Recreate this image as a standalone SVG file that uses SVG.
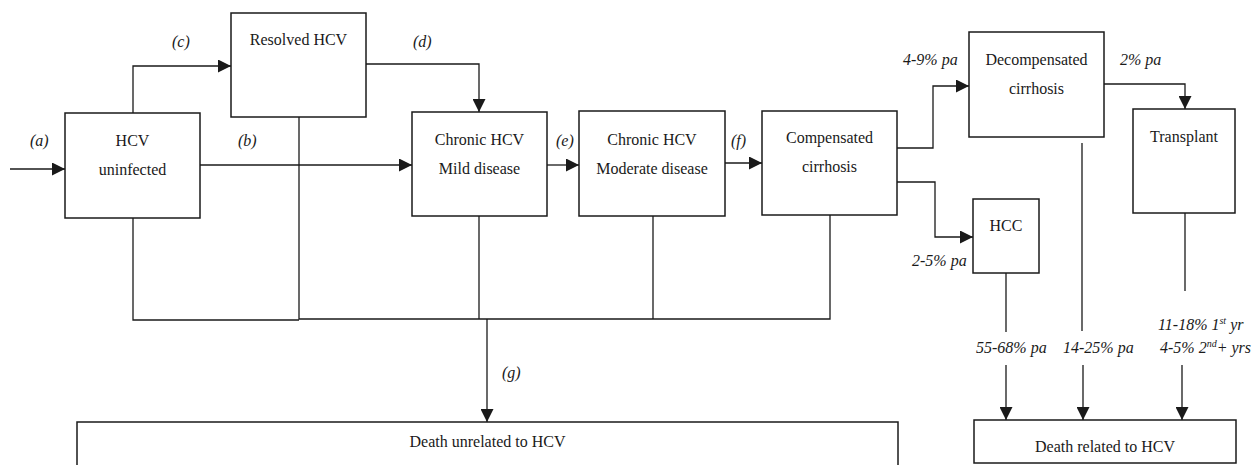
<svg xmlns="http://www.w3.org/2000/svg" width="1253" height="465" viewBox="0 0 1253 465">
<style>
.box{fill:#fff;stroke:#1a1a1a;stroke-width:1.5}
.ln{fill:none;stroke:#1a1a1a;stroke-width:1.3}
.t{font-family:"Liberation Serif","Times New Roman",serif;font-size:16px;fill:#1a1a1a;text-anchor:middle}
.i{font-family:"Liberation Serif","Times New Roman",serif;font-size:16px;font-style:italic;fill:#1a1a1a}
</style>
<defs>
<marker id="ah" markerUnits="userSpaceOnUse" markerWidth="13" markerHeight="13" refX="13" refY="6.5" orient="auto">
<path d="M0,0 L13,6.5 L0,13 z" fill="#1a1a1a"/>
</marker>
</defs>
<rect width="1253" height="465" fill="#fff"/>
<g id="connectors">
<path class="ln" d="M10,169 H65" marker-end="url(#ah)"/>
<path class="ln" d="M200,165 H412" marker-end="url(#ah)"/>
<path class="ln" d="M133,113 V66 H231" marker-end="url(#ah)"/>
<path class="ln" d="M366,64 H479 V112" marker-end="url(#ah)"/>
<path class="ln" d="M547,165 H579" marker-end="url(#ah)"/>
<path class="ln" d="M725,163 H762" marker-end="url(#ah)"/>
<path class="ln" d="M897,148 H933 V86 H969" marker-end="url(#ah)"/>
<path class="ln" d="M897,182 H935 V237 H973" marker-end="url(#ah)"/>
<path class="ln" d="M1104,84 H1185 V109" marker-end="url(#ah)"/>
<path class="ln" d="M133,218 V320 H299"/>
<path class="ln" d="M299,117 V319 H830 V215"/>
<path class="ln" d="M479,216 V319"/>
<path class="ln" d="M653,216 V319"/>
<path class="ln" d="M487,319 V422" marker-end="url(#ah)"/>
<path class="ln" d="M1006,273 V332"/>
<path class="ln" d="M1006,365 V420" marker-end="url(#ah)"/>
<path class="ln" d="M1082,143 V331"/>
<path class="ln" d="M1083,365 V420" marker-end="url(#ah)"/>
<path class="ln" d="M1185,213 V291"/>
<path class="ln" d="M1182,365 V420" marker-end="url(#ah)"/>
</g>
<g id="labels">
<text class="i" x="30" y="146">(a)</text>
<text class="i" x="238" y="146">(b)</text>
<text class="i" x="172" y="47">(c)</text>
<text class="i" x="413" y="47">(d)</text>
<text class="i" x="556" y="146">(e)</text>
<text class="i" x="731" y="146">(f)</text>
<text class="i" x="502" y="378">(g)</text>
<text class="i" x="903" y="65">4-9% pa</text>
<text class="i" x="1120" y="65">2% pa</text>
<text class="i" x="912" y="266">2-5% pa</text>
<text class="i" x="976" y="353">55-68% pa</text>
<text class="i" x="1063" y="353">14-25% pa</text>
<text class="i" x="1158" y="330">11-18% 1<tspan font-size="10" dy="-6">st</tspan><tspan dy="6"> yr</tspan></text>
<text class="i" x="1160" y="353">4-5% 2<tspan font-size="10" dy="-6">nd</tspan><tspan dy="6">+ yrs</tspan></text>
</g>
<g id="hcv-uninfected">
<rect class="box" x="65" y="113" width="135" height="105"/>
<text class="t" x="132.5" y="146">HCV</text>
<text class="t" x="132.5" y="175">uninfected</text>
</g>
<g id="resolved-hcv">
<rect class="box" x="231" y="13" width="135" height="104"/>
<text class="t" x="298.5" y="45">Resolved HCV</text>
</g>
<g id="chronic-mild">
<rect class="box" x="412" y="112" width="135" height="104"/>
<text class="t" x="479.5" y="145">Chronic HCV</text>
<text class="t" x="479.5" y="174">Mild disease</text>
</g>
<g id="chronic-moderate">
<rect class="box" x="579" y="111" width="146" height="105"/>
<text class="t" x="652" y="145">Chronic HCV</text>
<text class="t" x="652" y="174">Moderate disease</text>
</g>
<g id="compensated">
<rect class="box" x="762" y="111" width="135" height="104"/>
<text class="t" x="829.5" y="143">Compensated</text>
<text class="t" x="829.5" y="172">cirrhosis</text>
</g>
<g id="decompensated">
<rect class="box" x="969" y="32" width="135" height="105"/>
<text class="t" x="1036.5" y="65">Decompensated</text>
<text class="t" x="1036.5" y="94">cirrhosis</text>
</g>
<g id="transplant">
<rect class="box" x="1133" y="109" width="102" height="104"/>
<text class="t" x="1184" y="142">Transplant</text>
</g>
<g id="hcc">
<rect class="box" x="973" y="199" width="66" height="74"/>
<text class="t" x="1006" y="231">HCC</text>
</g>
<g id="death-unrelated">
<rect class="box" x="77" y="422" width="821" height="60"/>
<text class="t" x="487.5" y="447">Death unrelated to HCV</text>
</g>
<g id="death-related">
<rect class="box" x="974" y="420" width="262" height="43"/>
<text class="t" x="1105" y="452">Death related to HCV</text>
</g>
</svg>
